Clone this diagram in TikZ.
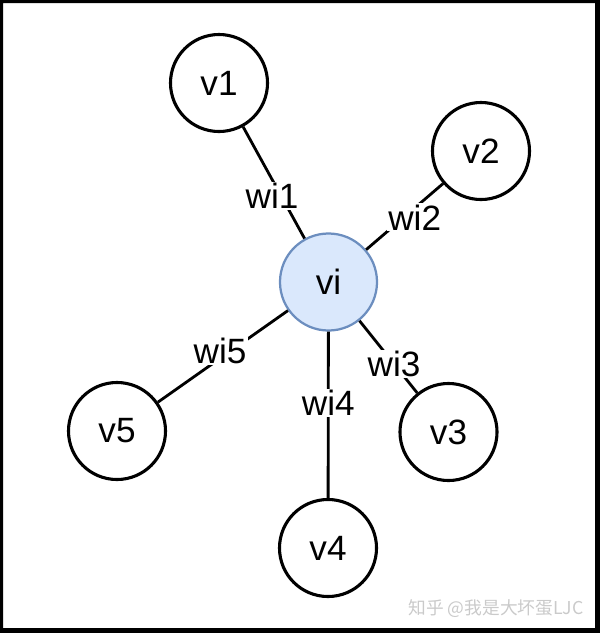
\documentclass[tikz,border=0pt]{standalone}
\usepackage{fontspec}
\setmainfont{Liberation Sans}
\newfontfamily\cjkfont{Noto Sans CJK SC}
\usetikzlibrary{positioning}
\definecolor{hubfill}{RGB}{218,232,252}
\definecolor{hubline}{RGB}{108,142,191}
\definecolor{markgray}{RGB}{202,202,202}

\begin{document}
\begin{tikzpicture}[x=0.025cm, y=-0.025cm,
    vertex/.style={circle, draw=black, line width=2.2pt, fill=white,
                   minimum size=2.425cm, inner sep=0pt,
                   font=\fontsize{25}{30}\selectfont},
    hub/.style={vertex, draw=hubline, fill=hubfill, line width=1.6pt},
    link/.style={line width=2pt},
    weight/.style={fill=white, inner sep=1pt,
                   font=\fontsize{25}{30}\selectfont}]
  % frame
  \useasboundingbox (0,0) rectangle (600,633);
  \fill[black, even odd rule] (0,0) rectangle (600,633) (3,3) rectangle (595,628);
  % centre node and neighbours
  \node[hub] (vi) at (328.5,282) {vi};
  \node[vertex] (v1) at (219,83) {v1};
  \node[vertex] (v2) at (481,151) {v2};
  \node[vertex] (v3) at (448.5,432) {v3};
  \node[vertex] (v4) at (328,548) {v4};
  \node[vertex] (v5) at (117,431) {v5};
  % weighted links
  \draw[link] (vi) -- node[weight, pos=0.415, xshift=-0.175cm, yshift=-0.1cm] (w1) {wi1} (v1);
  \draw[link] (vi) -- node[weight, pos=0.572, xshift=0.115cm, yshift=-0.135cm] (w2) {wi2} (v2);
  \draw[link] (vi) -- node[weight, pos=0.599] (w3) {wi3} (v3);
  \draw[link] (vi) -- node[weight, pos=0.429] (w4) {wi4} (v4);
  \draw[link] (vi) -- node[weight, pos=0.494, xshift=-0.09cm, yshift=0.125cm] (w5) {wi5} (v5);
  % watermark
  \node[markgray, font=\cjkfont\fontsize{12.6}{15}\selectfont] (mark) at (496,609)
    {知乎 @我是大坏蛋LJC};
\end{tikzpicture}
\end{document}
